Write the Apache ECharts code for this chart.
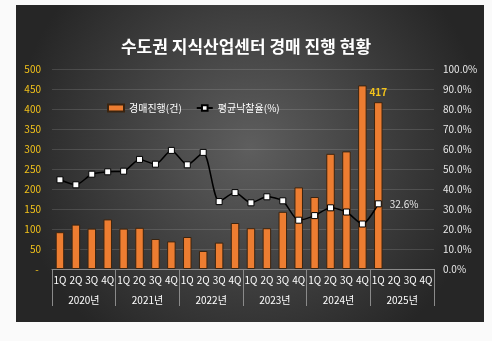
<!DOCTYPE html>
<html><head><meta charset="utf-8">
<script src="https://cdn.jsdelivr.net/npm/echarts@6/dist/echarts.min.js"></script>
<style>html,body{margin:0;padding:0;background:#fafafa}#c{width:492px;height:341px}</style>
</head><body><div id="c"></div>
<script>
const quarters = ['1Q','2Q','3Q','4Q','1Q','2Q','3Q','4Q','1Q','2Q','3Q','4Q','1Q','2Q','3Q','4Q','1Q','2Q','3Q','4Q','1Q','2Q','3Q','4Q'];
const years = ['2020년','2021년','2022년','2023년','2024년','2025년'];
const auctions = [92,111,101,124, 101,103,75,69, 80,45,66,115, 102,102,143,204, 180,288,294,459, 417,null,null,null];
const winRate = [44.6,42.1,47.4,48.6, 48.9,54.8,52.4,59.3, 52.1,58.3,33.7,38.2, 33.1,36.1,34.1,24.4, 26.7,30.6,28.5,22.5, 32.6,null,null,null];

const font = '"Noto Sans CJK KR", "Noto Sans", sans-serif';
const chart = echarts.init(document.getElementById('c'));
chart.setOption({
  backgroundColor: '#fafafa',
  animation: false,
  graphic: [{
    type: 'rect', z: -10, silent: true,
    shape: {x: 16, y: 5, width: 468, height: 317},
    style: {fill: new echarts.graphic.RadialGradient(0.5, 0.45, 0.75, [
      {offset: 0, color: '#5e5e5e'}, {offset: 1, color: '#262626'}])}
  }],
  title: {
    text: '수도권 지식산업센터 경매 진행 현황',
    left: 'center', top: 33,
    textStyle: {color: '#ffffff', fontSize: 17, fontWeight: 'bold', fontFamily: font}
  },
  legend: {
    top: 98, left: 102, itemGap: 14, itemWidth: 16, itemHeight: 7,
    textStyle: {color: '#ffffff', fontSize: 10, fontFamily: font},
    data: [{name: '경매진행(건)', icon: 'rect'}, {name: '평균낙찰율(%)'}]
  },
  grid: {left: 52, right: 58, top: 69, bottom: 72},
  xAxis: [{
    type: 'category', data: quarters, position: 'bottom',
    axisLine: {show: false}, axisTick: {show: false},
    axisLabel: {color: '#ffffff', fontSize: 10, margin: 6, fontFamily: font, interval: 0}
  }, {
    type: 'category', data: years, position: 'bottom',
    axisLine: {show: true, lineStyle: {color: '#8a8a8a', width: 1}},
    axisTick: {show: true, length: 37, lineStyle: {color: '#8a8a8a'}},
    axisLabel: {color: '#ffffff', fontSize: 10, margin: 26, fontFamily: font}
  }],
  yAxis: [{
    type: 'value', min: 0, max: 500, interval: 50,
    axisLine: {show: false}, axisTick: {show: false},
    splitLine: {lineStyle: {color: 'rgba(255,255,255,0.13)'}},
    axisLabel: {color: '#f2c21a', fontSize: 10, margin: 11, fontFamily: font,
      formatter: v => v === 0 ? '- ' : String(v)}
  }, {
    type: 'value', min: 0, max: 100, interval: 10,
    axisLine: {show: false}, axisTick: {show: false}, splitLine: {show: false},
    axisLabel: {color: '#e8e8e8', fontSize: 10, margin: 9, fontFamily: font,
      formatter: v => v.toFixed(1) + '%'}
  }],
  series: [{
    name: '경매진행(건)', type: 'bar', data: auctions, barWidth: 8.5,
    itemStyle: {color: '#ed7d31', borderColor: '#3a2410', borderWidth: 1},
    label: {show: true, position: 'top', color: '#f2c21a', fontSize: 10, fontWeight: 'bold', fontFamily: font,
      formatter: p => p.dataIndex === 20 ? String(p.value) : ''}
  }, {
    name: '평균낙찰율(%)', type: 'line', yAxisIndex: 1, data: winRate,
    symbol: 'rect', symbolSize: 6, smooth: 0.25,
    lineStyle: {color: '#000000', width: 1.5},
    itemStyle: {color: '#ffffff', borderColor: '#000000', borderWidth: 1},
    label: {show: true, position: 'right', distance: 8, color: '#e8e8e8', fontSize: 10, fontFamily: font,
      formatter: p => p.dataIndex === 20 ? p.value.toFixed(1) + '%' : ''}
  }]
});
</script></body></html>
